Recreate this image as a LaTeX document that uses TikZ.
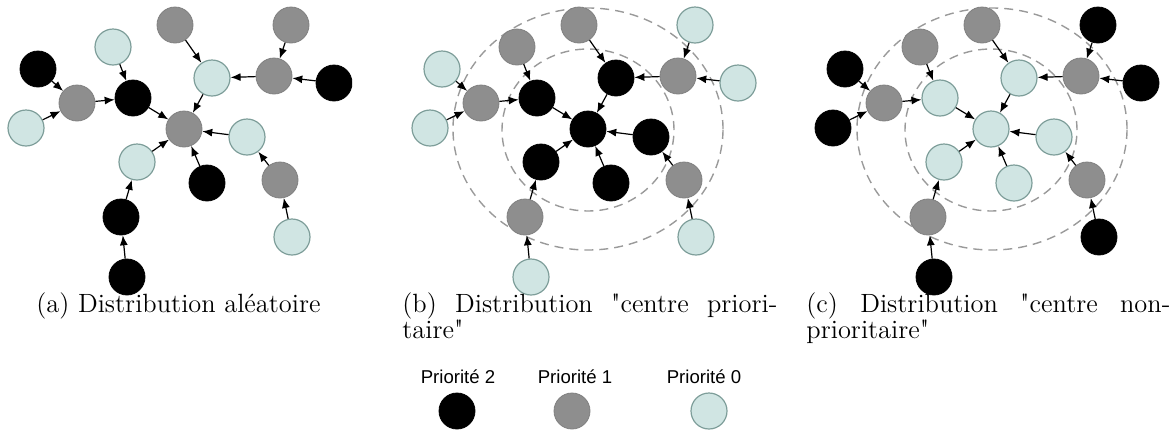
\documentclass[tikz,border=0pt]{standalone}
\usepackage{fontspec}
\newfontfamily\legendfont{Liberation Sans}
\usetikzlibrary{arrows.meta}
\definecolor{lightnode}{HTML}{D0E5E3}
\definecolor{lightedge}{HTML}{7E9E9A}
\definecolor{graynode}{HTML}{8E8E8E}
\definecolor{ringgray}{HTML}{9A9A9A}
\newcommand\qdbl{\XeTeXglyph\XeTeXglyphindex "quotedbl" \relax}
\tikzset{
  nodebase/.style={circle, minimum size=18pt, inner sep=0pt},
  prio2/.style={nodebase, fill=black, draw=black},
  prio1/.style={nodebase, fill=graynode, draw=graynode!90!black},
  prio0/.style={nodebase, fill=lightnode, draw=lightedge, line width=0.6pt},
  conn/.style={-{Latex[length=5pt,width=4pt]}, line width=0.6pt},
  ringline/.style={draw=ringgray, line width=0.7pt, dash pattern=on 4.5pt off 3pt},
  captext/.style={font=\fontsize{13.2}{15}\selectfont, anchor=base west, inner sep=0pt},
  legtext/.style={font=\legendfont\fontsize{9.3}{11}\selectfont, anchor=base, inner sep=0pt}
}
\begin{document}
\begin{tikzpicture}[x=0.5pt,y=-0.5pt]
\useasboundingbox (0,0) rectangle (1173,430);
\def\nodelist{1/175/25/1/1/1, 2/291/25/1/0/2, 3/113/47/0/1/1, 4/38/69/2/0/2,
  5/212/78/0/2/0, 6/274/76/1/1/1, 7/334/83/2/0/2, 8/77/103/1/1/1,
  9/133/98/2/2/0, 10/26/128/0/0/2, 11/184/129/1/2/0, 12/247/137/0/2/0,
  13/137/162/0/2/0, 14/207/183/2/2/0, 15/280/180/1/1/1, 16/121/217/2/1/1,
  17/292/237/0/0/2, 18/127/277/2/0/2}
\def\edgelist{4/8, 10/8, 8/9, 3/9, 9/11, 1/5, 5/11, 6/5, 2/6, 7/6, 12/11,
  15/12, 17/15, 13/11, 16/13, 18/16, 14/11}
% panel (a)
\begin{scope}
  \clip (0,0) rectangle (352,295);
  \foreach \i/\x/\y/\ca/\cb/\cc in \nodelist {
    \node[prio\ca] (a\i) at (\x,\y) {};
  }
  \foreach \s/\t in \edgelist { \draw[conn] (a\s) -- (a\t); }
\end{scope}
% panel (b)
\begin{scope}
  \clip (390,0) rectangle (757,295);
  \draw[ringline] (588,130) ellipse [x radius=43pt, y radius=40.5pt];
  \draw[ringline] (588,129) ellipse [x radius=67.5pt, y radius=60.5pt];
  \foreach \i/\x/\y/\ca/\cb/\cc in \nodelist {
    \node[prio\cb] (b\i) at (\x+404,\y) {};
  }
  \foreach \s/\t in \edgelist { \draw[conn] (b\s) -- (b\t); }
\end{scope}
% panel (c)
\begin{scope}
  \clip (790,0) rectangle (1160,295);
  \draw[ringline] (991,130) ellipse [x radius=43pt, y radius=40.5pt];
  \draw[ringline] (992,129) ellipse [x radius=67.5pt, y radius=60.5pt];
  \foreach \i/\x/\y/\ca/\cb/\cc in \nodelist {
    \node[prio\cc] (c\i) at (\x+807,\y) {};
  }
  \foreach \s/\t in \edgelist { \draw[conn] (c\s) -- (c\t); }
\end{scope}
% captions
\node[captext] (capa) at (36,312) {(a) Distribution aléatoire};
\node[captext] (capb1) at (402,312) {\makebox[187.5pt][s]{(b) Distribution \qdbl centre priori-}};
\node[captext] (capb2) at (402,338) {taire\qdbl};
\node[captext] (capc1) at (806,312) {\makebox[182pt][s]{(c) Distribution \qdbl centre non-}};
\node[captext] (capc2) at (806,338) {prioritaire\qdbl};
% legend
\node[legtext] (l2) at (458,383) {Priorité 2};
\node[prio2] (k2) at (457,411) {};
\node[legtext] (l1) at (575,383) {Priorité 1};
\node[prio1] (k1) at (572,411) {};
\node[legtext] (l0) at (704,383) {Priorité 0};
\node[prio0] (k0) at (709,411) {};
\end{tikzpicture}
\end{document}
